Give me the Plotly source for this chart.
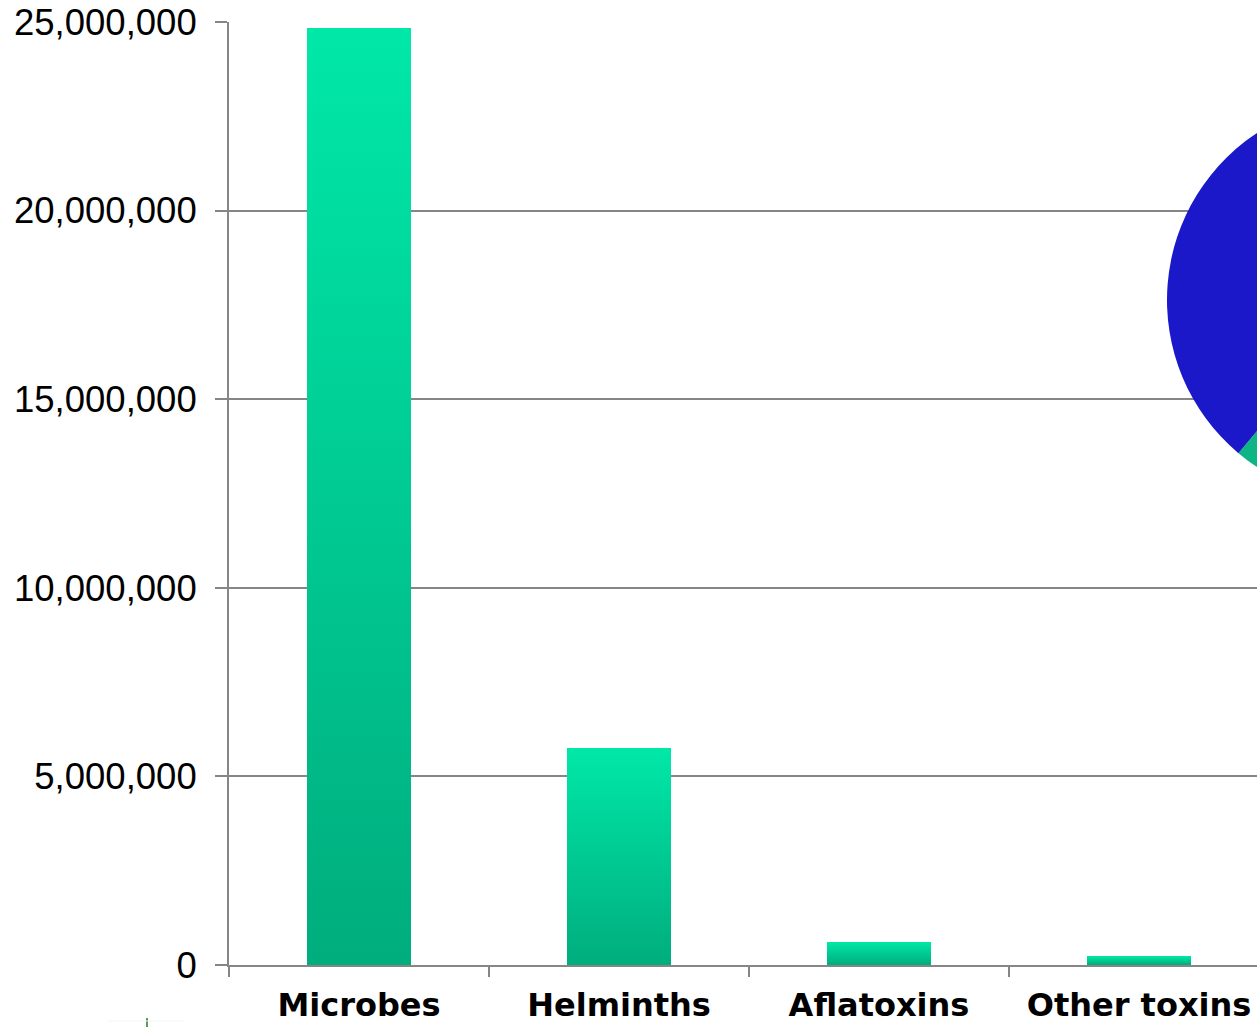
import plotly.graph_objects as go

categories = ["Microbes", "Helminths", "Aflatoxins", "Other toxins"]
values = [24_840_000, 5_750_000, 610_000, 240_000]
y_tickvals = [0, 5_000_000, 10_000_000, 15_000_000, 20_000_000, 25_000_000]
y_ticktext = ["0", "5,000,000", "10,000,000", "15,000,000", "20,000,000", "25,000,000"]

pie_labels = ["Other", "Main"]
pie_values = [9, 91]
pie_colors = ["#0db584", "#1a18c8"]

BAR_W = 0.4
W, H = 1600, 1027
ML, MT, MB = 229, 22, 62
plot_w = W - ML
plot_h = H - MT - MB
cat_px = 260
x_max = -0.5 + plot_w / cat_px

fig = go.Figure()

for i, (cat, v) in enumerate(zip(categories, values)):
    fig.add_trace(go.Scatter(
        x=[i - BAR_W / 2, i + BAR_W / 2, i + BAR_W / 2, i - BAR_W / 2, i - BAR_W / 2],
        y=[0, 0, v, v, 0],
        mode="lines",
        line=dict(width=0, color="rgba(0,0,0,0)"),
        fill="toself",
        fillcolor="#00cc93",
        fillgradient=dict(type="vertical", start=0, stop=v,
                          colorscale=[[0, "#00ad7d"], [1, "#00e8a8"]]),
        name=cat,
        showlegend=False,
        hoverinfo="skip",
    ))

# pie (partially off-screen on the right)
cx_px, cy_px, r_px = 1367, 300, 200
dom_x = [(cx_px - r_px - ML) / plot_w, (cx_px + r_px - ML) / plot_w]
dom_y = [(H - MB - (cy_px + r_px)) / plot_h, (H - MB - (cy_px - r_px)) / plot_h]
green_angle = 360 * pie_values[0] / sum(pie_values)
fig.add_trace(go.Pie(
    labels=pie_labels, values=pie_values, sort=False, direction="clockwise",
    rotation=220 - green_angle,
    marker=dict(colors=pie_colors, line=dict(width=0)),
    textinfo="none", showlegend=False, hoverinfo="skip",
    domain=dict(x=dom_x, y=dom_y),
))

axis_col = "#868686"
fig.update_layout(
    width=W, height=H,
    margin=dict(l=ML, r=0, t=MT, b=MB, pad=0, autoexpand=False),
    paper_bgcolor="white", plot_bgcolor="white",
    font=dict(family="Liberation Sans, Arial, sans-serif", color="black"),
    xaxis=dict(
        range=[-0.5, x_max],
        automargin=False,
        tickvals=list(range(len(categories))),
        ticktext=["<b>%s</b>" % c for c in categories],
        tickfont=dict(size=32, family="DejaVu Sans"),
        ticks="",
        showgrid=False, zeroline=False,
        showline=True, linecolor=axis_col, linewidth=2,
        ticklabelstandoff=11,
        minor=dict(tickvals=[-0.5, 0.5, 1.5, 2.5, 3.5], ticks="outside",
                   ticklen=10, tickwidth=2, tickcolor=axis_col, showgrid=False),
    ),
    yaxis=dict(
        range=[0, 25_000_000],
        automargin=False,
        tickvals=y_tickvals, ticktext=y_ticktext,
        tickfont=dict(size=36.5),
        ticks="outside", ticklen=12, tickwidth=2, tickcolor=axis_col,
        showgrid=True, gridcolor=axis_col, gridwidth=2,
        zeroline=False,
        showline=True, linecolor=axis_col, linewidth=2,
        ticklabelstandoff=11,
    ),
    shapes=[
        dict(type="line", xref="paper", yref="paper",
             x0=(147 - ML) / plot_w, x1=(147 - ML) / plot_w,
             y0=-(1018 - (H - MB)) / plot_h, y1=-(1027 - (H - MB)) / plot_h,
             line=dict(color="#5a9a5a", width=2)),
        dict(type="line", xref="paper", yref="paper",
             x0=(108 - ML) / plot_w, x1=(183 - ML) / plot_w,
             y0=-(1021 - (H - MB)) / plot_h, y1=-(1021 - (H - MB)) / plot_h,
             line=dict(color="#f2f6ec", width=1)),
    ],
)

fig.write_html(
    "out.html",
    post_script="document.documentElement.style.overflow='hidden';"
                "document.body.style.overflow='hidden';document.body.style.margin='0';",
)
